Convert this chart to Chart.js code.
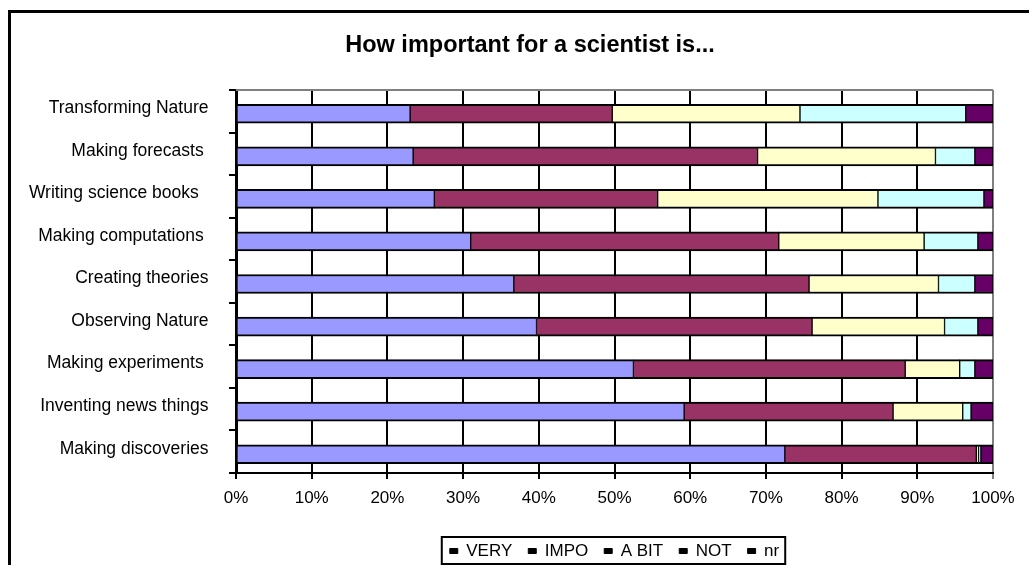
<!DOCTYPE html>
<html>
<head>
<meta charset="utf-8">
<script src="https://cdn.jsdelivr.net/npm/chart.js@4.4.0/dist/chart.umd.min.js"></script>
<style>
    html, body { margin: 0; padding: 0; background: #fff; overflow: hidden; }
    #wrap { position: relative; width: 1040px; height: 572px; }
</style>
</head>
<body>
<div id="wrap"><canvas id="container"></canvas></div>
<script>
// categories, top to bottom
const categories = [
    "Transforming Nature",
    "Making forecasts ",
    "Writing science books  ",
    "Making computations ",
    "Creating theories",
    "Observing Nature",
    "Making experiments ",
    "Inventing news things",
    "Making discoveries"
];

const seriesNames = ["VERY", "IMPO", "A BIT", "NOT", "nr"];

// percentages per category
const very  = [23.0, 23.4, 26.2, 31.0, 36.7, 39.7, 52.5, 59.2, 72.5];
const impo  = [26.7, 45.5, 29.5, 40.7, 39.0, 36.4, 35.9, 27.6, 25.3];
const aBit  = [24.8, 23.5, 29.1, 19.2, 17.1, 17.5, 7.2, 9.2, 0.3];
const not   = [21.9, 5.2, 14.0, 7.1, 4.8, 4.4, 2.0, 1.1, 0.3];
const nr    = [3.6, 2.4, 1.2, 2.0, 2.4, 2.0, 2.4, 2.9, 1.6];

const xTicks = [0, 10, 20, 30, 40, 50, 60, 70, 80, 90, 100];

const colors = ['#9999FF', '#993366', '#FFFFCC', '#CCFFFF', '#660066'];
const FONT = 'Arial, "Liberation Sans", sans-serif';

const ctx = document.getElementById('container').getContext('2d');

// frame around the whole chart, plot border and legend box
const framePlugin = {
    id: 'frames',
    beforeDatasetsDraw(chart) {
        const c = chart.ctx, a = chart.chartArea;
        c.save();
        c.strokeStyle = '#808080';
        c.lineWidth = 2;
        c.beginPath();
        c.moveTo(a.left, a.top);
        c.lineTo(a.right, a.top);
        c.stroke();
        c.restore();
        // bars sit a little below the middle of their band in the original
        c.save();
        c.translate(0, 2.5);
    },
    afterDatasetsDraw(chart) {
        chart.ctx.restore();
    },
    afterDraw(chart) {
        const c = chart.ctx;
        c.save();
        c.strokeStyle = '#000';
        c.lineWidth = 3;
        c.strokeRect(9.5, 11.5, 2000, 2000);
        const boxes = chart.legend.legendHitBoxes;
        if (boxes && boxes.length) {
            const first = boxes[0], last = boxes[boxes.length - 1];
            const mid = first.top + first.height / 2;
            c.lineWidth = 2;
            c.strokeRect(first.left - 8, mid - 14, last.left + last.width - first.left + 14, 27);
        }
        c.restore();
    }
};

const seriesData = [very, impo, aBit, not, nr];

const chart = new Chart(ctx, {
    type: 'bar',
    data: {
        labels: categories,
        datasets: seriesNames.map((name, i) => ({
            label: name,
            data: seriesData[i],
            backgroundColor: colors[i],
            borderColor: '#000',
            borderWidth: {top: 2, bottom: 2, left: 1, right: 1},
            borderSkipped: false,
            barThickness: 19
        }))
    },
    options: {
        indexAxis: 'y',
        responsive: true,
        maintainAspectRatio: false,
        animation: false,
        layout: {
            padding: {left: 25, right: 5, top: 0, bottom: 2.5}
        },
        plugins: {
            title: {
                display: true,
                text: "How important for a scientist is...",
                color: '#000',
                font: {family: FONT, size: 23.5, weight: 'bold'},
                padding: {top: 31, bottom: 30.8}
            },
            legend: {
                position: 'bottom',
                fullSize: false,
                labels: {
                    color: '#000',
                    font: {family: FONT, size: 17},
                    boxWidth: 8,
                    boxHeight: 5,
                    padding: 16,
                    generateLabels(chart) {
                        const items = Chart.defaults.plugins.legend.labels.generateLabels(chart);
                        items.forEach(it => {
                            it.fillStyle = '#000';
                            it.strokeStyle = '#000';
                            it.lineWidth = 1;
                        });
                        return items;
                    }
                }
            },
            tooltip: {enabled: false}
        },
        scales: {
            x: {
                type: 'linear',
                stacked: true,
                min: 0,
                max: 100,
                afterBuildTicks(scale) {
                    scale.ticks = xTicks.map(v => ({value: v}));
                },
                afterFit(scale) {
                    scale.height = 53.5;
                },
                ticks: {
                    color: '#000',
                    font: {family: FONT, size: 17},
                    padding: 9,
                    callback: v => v + '%'
                },
                grid: {
                    color: c => (c.tick && c.tick.value === 100) ? '#808080' : '#000',
                    lineWidth: 2,
                    tickLength: 6
                },
                border: {display: true, color: '#000', width: 2}
            },
            y: {
                type: 'category',
                stacked: true,
                afterFit(scale) {
                    scale.width = 211;
                },
                ticks: {
                    color: '#000',
                    font: {family: FONT, size: 17.5},
                    padding: 20.5,
                    labelOffset: -3
                },
                grid: {
                    display: true,
                    drawOnChartArea: false,
                    color: '#000',
                    lineWidth: 2,
                    tickLength: 7
                },
                border: {display: true, color: '#000', width: 3}
            },
            // empty spacer on the right so the title centres like the original
            spacer: {
                type: 'category',
                position: 'right',
                display: true,
                afterFit(scale) {
                    scale.width = 42;
                },
                ticks: {display: false},
                grid: {display: false},
                border: {display: false}
            }
        }
    },
    plugins: [framePlugin]
});
</script>
</body>
</html>
